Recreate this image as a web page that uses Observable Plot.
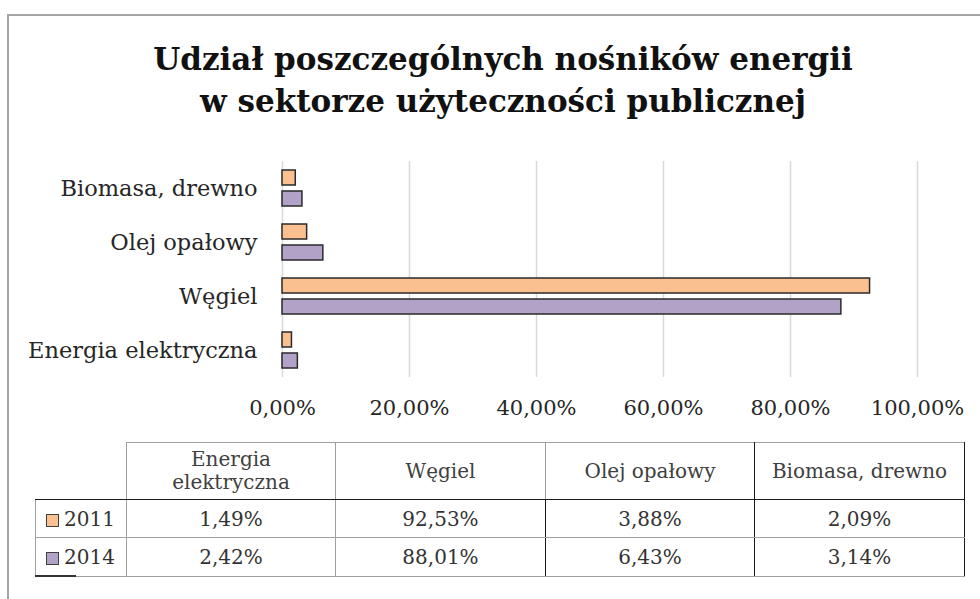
<!DOCTYPE html>
<html>
<head>
<meta charset="utf-8">
<script src="https://cdn.jsdelivr.net/npm/d3@7"></script>
<script src="https://cdn.jsdelivr.net/npm/@observablehq/plot@0.6"></script>
<style>
  html, body { margin: 0; padding: 0; background: #fff; }
  #wrap { position: relative; width: 980px; height: 599px; overflow: hidden; font-family: "DejaVu Serif", serif; color: #262626; }
  #frameTop { position: absolute; left: 8px; top: 14px; width: 972px; height: 2px; background: #a6a6a6; }
  #frameLeft { position: absolute; left: 7px; top: 14px; width: 2px; height: 585px; background: #a6a6a6; }
  #title { position: absolute; left: 8px; width: 990px; top: 38px; text-align: center; font-weight: bold; font-size: 31px; line-height: 42px; color: #111; }
  #chart { position: absolute; left: 0; top: 0; }
  #tbl { position: absolute; left: 35px; top: 442px; border-collapse: collapse; table-layout: fixed; font-size: 20px; color: #333; }
  #tbl td { text-align: center; padding: 0; }
  .sw { display: inline-block; width: 11px; height: 11px; border: 1px solid #404040; margin-right: 5px; vertical-align: -1px; }
  #mark { position: absolute; left: 35px; top: 575px; width: 41px; height: 2px; background: #333; }
</style>
</head>
<body>
<div id="wrap">
  <div id="frameTop"></div>
  <div id="frameLeft"></div>
  <div id="chart"></div>
  <div id="title"></div>
  <table id="tbl"></table>
  <div id="mark"></div>
</div>
<script>
const titleLines = ["Udział poszczególnych nośników energii", "w sektorze użyteczności publicznej"];
const categories = ["Energia elektryczna", "Węgiel", "Olej opałowy", "Biomasa, drewno"];
const tableHeaders = ["Energia<br>elektryczna", "Węgiel", "Olej opałowy", "Biomasa, drewno"];
const years = ["2011", "2014"];
const values2011 = [1.49, 92.53, 3.88, 2.09];
const values2014 = [2.42, 88.01, 6.43, 3.14];
const xTicks = [0, 20, 40, 60, 80, 100];
const colors = ["#FAC090", "#B3A2C7"];

const fmt = v => v.toFixed(2).replace(".", ",") + "%";

document.getElementById("title").innerHTML = titleLines.join("<br>");

const rows = categories.flatMap((c, i) => [
  {cat: c, year: years[0], value: values2011[i]},
  {cat: c, year: years[1], value: values2014[i]}
]);

const chart = Plot.plot({
  width: 980,
  height: 599,
  marginLeft: 282,
  marginRight: 63,
  marginTop: 160,
  marginBottom: 222,
  style: {fontFamily: "DejaVu Serif", fontSize: "22px", color: "#262626", background: "transparent"},
  x: {domain: [0, 100]},
  y: {domain: years, paddingInner: 0.27, paddingOuter: 0.37},
  fy: {domain: categories.slice().reverse(), padding: 0},
  color: {domain: years, range: colors},
  marks: [
    Plot.ruleX(xTicks, {stroke: "#d9d9d9", strokeWidth: 1.5}),
    Plot.barX(rows, {x: "value", y: "year", fy: "cat", fill: "year", stroke: "#2a2a2a", strokeWidth: 1.5}),
    Plot.axisX({ticks: xTicks, tickFormat: fmt, tickSize: 0, tickPadding: 23, fontSize: 21, label: null}),
    Plot.axisFy({anchor: "left", tickSize: 0, tickPadding: 25, fontSize: 22.5, label: null}),
    Plot.axisY({ticks: [], label: null, tickSize: 0})
  ]
});
document.getElementById("chart").appendChild(chart);

// table
const tbl = document.getElementById("tbl");
const colW = [91, 209, 210, 209, 210];
const cg = document.createElement("colgroup");
colW.forEach(w => { const c = document.createElement("col"); c.style.width = w + "px"; cg.appendChild(c); });
tbl.appendChild(cg);
const gray = "1.5px solid #a0a0a0", dark = "1.5px solid #1a1a1a";
let hr = "<tr style='height:57px'><td style='border:none'></td>";
tableHeaders.forEach((h, i) => {
  hr += `<td style="border-top:${gray};border-left:${i === 1 ? dark : gray};border-right:${(i === 2 || i === 3) ? dark : gray};border-bottom:${dark};line-height:23px;color:#404040">${h}</td>`;
});
hr += "</tr>";
const vals = [values2011, values2014];
years.forEach((y, r) => {
  hr += `<tr style='height:${r === 0 ? 38 : 39}px'>`;
  hr += `<td style="text-align:left;padding-left:10px;border-left:${gray};border-top:${r===0?dark:gray};border-bottom:${gray};border-right:${gray}"><span class="sw" style="background:${colors[r]}"></span>${y}</td>`;
  vals[r].forEach((v, i) => {
    const left = i === 1 ? dark : gray;
    const right = (i === 1 || i === 2 || i === 3) ? dark : gray;
    hr += `<td style="border-left:${left};border-right:${right};border-top:${r===0?dark:gray};border-bottom:${gray}">${fmt(v)}</td>`;
  });
  hr += "</tr>";
});
tbl.innerHTML += hr;
</script>
</body>
</html>
